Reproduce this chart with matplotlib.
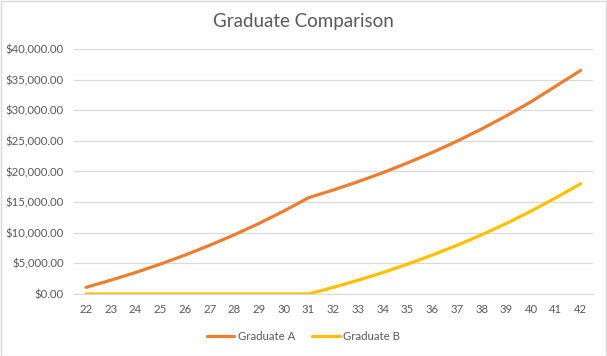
import matplotlib.pyplot as plt
from matplotlib.ticker import FuncFormatter

# ages on the category axis
ages = list(range(22, 43))

# savings balance
grad_a = [1080, 2250, 3500, 4870, 6350, 7950, 9670, 11530, 13550, 15720,
          16980, 18340, 19800, 21400, 23100, 24950, 26950, 29100, 31400, 33950, 36500]
grad_b = [0, 0, 0, 0, 0, 0, 0, 0, 0, 0,
          1080, 2250, 3500, 4870, 6350, 7950, 9670, 11530, 13550, 15720, 18000]

txt = '#595959'
grid = '#D9D9D9'
plt.rcParams['font.family'] = ['Lato', 'DejaVu Sans']

fig = plt.figure(figsize=(6.07, 3.56), dpi=100)
ax = fig.add_axes([0.1213, 0.1742, 0.8557, 0.6882])

ax.plot(ages, grad_a, color='#ED7D31', lw=2.3, label='Graduate A', solid_capstyle='round')
ax.plot(ages, grad_b, color='#FFC000', lw=2.3, label='Graduate B', solid_capstyle='round')

ax.set_xlim(21.5, 42.5)
ax.set_ylim(0, 40000)
ax.set_xticks(ages)
ax.set_yticks(range(0, 40001, 5000))
ax.yaxis.set_major_formatter(FuncFormatter(lambda v, p: f'${v:,.2f}'))

ax.grid(axis='y', color=grid, lw=0.9)
ax.set_axisbelow(True)
for s in ['top', 'right', 'left']:
    ax.spines[s].set_visible(False)
ax.spines['bottom'].set_color(grid)
ax.tick_params(axis='both', length=0, colors=txt, labelsize=8.2)
ax.tick_params(axis='x', pad=7)
ax.tick_params(axis='y', pad=7)

fig.text(0.5, 0.94, 'Graduate Comparison', ha='center', va='center', fontsize=13.5, color=txt)

fig.legend(loc='center', bbox_to_anchor=(0.5, 0.055), ncol=2, frameon=False,
           fontsize=8.2, labelcolor=txt, handlelength=2.4, handletextpad=0.3, columnspacing=1.5)

fig.patches.append(plt.Rectangle((0.001, 0.001), 0.997, 0.996, transform=fig.transFigure,
                                 fill=False, edgecolor=grid, lw=1))

fig.savefig('out.png', dpi=100)
